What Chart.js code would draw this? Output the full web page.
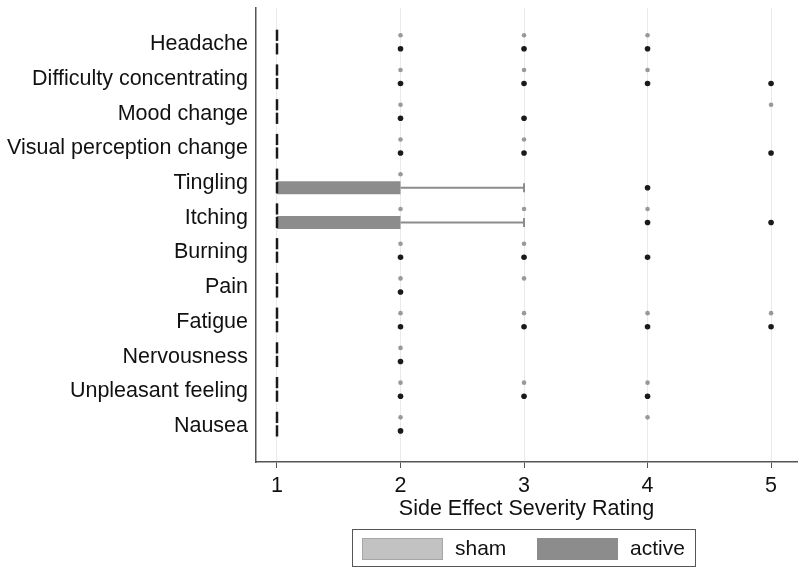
<!DOCTYPE html>
<html><head><meta charset="utf-8">
<script src="https://cdn.jsdelivr.net/npm/chart.js@4.4.0/dist/chart.umd.min.js"></script>
<style>
html,body{margin:0;padding:0;background:#fff;}
*{box-sizing:border-box;}
#wrap{position:relative;width:800px;height:576px;}
#legend{position:absolute;left:352px;top:529px;width:344px;height:38px;border:1px solid #555;font-family:'Liberation Sans',Arial,sans-serif;font-size:21px;color:#111;}
.sw{position:absolute;top:8px;width:81px;height:22px;}
.lt{position:absolute;top:0;line-height:36px;white-space:nowrap;}
</style></head>
<body><div id="wrap"><canvas id="c" width="800" height="576"></canvas>
<div id="legend"></div></div>
<script>
const categories = ["Headache","Difficulty concentrating","Mood change","Visual perception change","Tingling","Itching","Burning","Pain","Fatigue","Nervousness","Unpleasant feeling","Nausea"];
const seriesNames = ["sham","active"];
const xTicks = [1,2,3,4,5];
const xTitle = "Side Effect Severity Rating";

// box statistics per category
const shamMedian = [1,1,1,1,1,1,1,1,1,1,1,1];
const shamQ1     = [1,1,1,1,1,1,1,1,1,1,1,1];
const shamQ3     = [1,1,1,1,1,1,1,1,1,1,1,1];
const shamUpper  = [1,1,1,1,1,1,1,1,1,1,1,1];
const shamOutliers = [[2,3,4],[2,3,4],[2,5],[2,3],[2],[2,3,4],[2,3],[2,3],[2,3,4,5],[2],[2,3,4],[2,4]];

const activeMedian = [1,1,1,1,1,1,1,1,1,1,1,1];
const activeQ1     = [1,1,1,1,1,1,1,1,1,1,1,1];
const activeQ3     = [1,1,1,1,2,2,1,1,1,1,1,1];
const activeUpper  = [1,1,1,1,3,3,1,1,1,1,1,1];
const activeOutliers = [[2,3,4],[2,3,4,5],[2,3],[2,3,5],[4],[4,5],[2,3,4],[2],[2,3,4,5],[2],[2,3,4],[2]];

const FONT = "'Liberation Sans', Arial, sans-serif";
const FS = 21.5;
const TEXT = '#111111';
const SHAM_FILL = '#c2c2c2', SHAM_EDGE = '#a6a6a6';
const ACTIVE_FILL = '#8c8c8c';
const SHAM_DOT = '#999999', ACTIVE_DOT = '#1a1a1a';
const OFF = 0.195;
const LABEL_SHIFT = 0.06;

const series = [
  {name: seriesNames[0], med: shamMedian, q1: shamQ1, q3: shamQ3, up: shamUpper, out: shamOutliers, dy: -OFF, fill: SHAM_FILL, dot: SHAM_DOT, r: 2.3},
  {name: seriesNames[1], med: activeMedian, q1: activeQ1, q3: activeQ3, up: activeUpper, out: activeOutliers, dy: OFF, fill: ACTIVE_FILL, dot: ACTIVE_DOT, r: 2.8}
];

const datasets = [];
// medians (drawn on top)
const medPts = [];
series.forEach(s => categories.forEach((c, i) => medPts.push({x: s.med[i], y: i + s.dy})));
datasets.push({label: 'median', data: medPts, pointStyle: 'line', rotation: 90, pointRadius: 5.6,
  borderColor: '#1a1a1a', pointBorderWidth: 2.5, showLine: false});
// whisker caps
const capPts = [];
series.forEach(s => categories.forEach((c, i) => { if (s.up[i] > s.q3[i]) capPts.push({x: s.up[i], y: i + s.dy}); }));
datasets.push({label: 'caps', data: capPts, pointStyle: 'line', rotation: 90, pointRadius: 4.5,
  borderColor: ACTIVE_FILL, pointBorderWidth: 2, showLine: false});
// outliers
series.forEach(s => {
  const pts = [];
  categories.forEach((c, i) => s.out[i].forEach(v => pts.push({x: v, y: i + s.dy})));
  datasets.push({label: s.name + ' outliers', data: pts, pointRadius: s.r, pointBackgroundColor: s.dot,
    pointBorderWidth: 0, borderColor: s.dot, showLine: false});
});
// whiskers
series.forEach(s => categories.forEach((c, i) => {
  if (s.up[i] > s.q3[i]) datasets.push({label: 'whisker', data: [{x: s.q3[i], y: i + s.dy}, {x: s.up[i], y: i + s.dy}],
    showLine: true, borderColor: s.fill, borderWidth: 2, pointRadius: 0});
}));
// boxes
series.forEach(s => categories.forEach((c, i) => {
  if (s.q3[i] > s.q1[i]) datasets.push({label: 'box', data: [{x: s.q1[i], y: i + s.dy}, {x: s.q3[i], y: i + s.dy}],
    showLine: true, borderColor: s.fill, borderWidth: 13, borderCapStyle: 'butt', pointRadius: 0});
}));

const noPad = a => { a.paddingTop = 0; a.paddingBottom = 0; a.paddingLeft = 0; a.paddingRight = 0; };

new Chart(document.getElementById('c'), {
  type: 'scatter',
  data: {datasets},
  options: {
    responsive: false, animation: false, devicePixelRatio: 1,
    layout: {autoPadding: false, padding: {top: 8, right: 3, bottom: 50, left: 0}},
    plugins: {legend: {display: false}, tooltip: {enabled: false}},
    scales: {
      x: {
        type: 'linear', min: 0.83, max: 5.21,
        afterBuildTicks: a => { a.ticks = xTicks.map(v => ({value: v})); },
        afterFit: a => { a.height = 64; noPad(a); },
        grid: {color: '#e6ecee', lineWidth: 1, tickColor: '#555', tickLength: 6, drawTicks: true},
        border: {color: '#555', width: 1.5},
        ticks: {font: {family: FONT, size: FS}, color: TEXT, padding: 5},
        title: {display: true, text: xTitle, font: {family: FONT, size: FS}, color: TEXT, padding: {top: 0, bottom: 4}}
      },
      y: {
        type: 'linear', reverse: true, min: -0.98, max: 12.09,
        afterBuildTicks: a => { a.ticks = categories.map((c, i) => ({value: i + LABEL_SHIFT})); },
        afterFit: a => { a.width = 256; noPad(a); },
        grid: {display: false, drawTicks: false},
        border: {color: '#555', width: 1.5},
        ticks: {font: {family: FONT, size: FS}, color: TEXT, padding: 8, callback: v => categories[Math.round(v)]}
      }
    }
  }
});

// HTML legend
const lg = document.getElementById('legend');
const swLeft = [9, 184], txLeft = [102, 277];
series.forEach((s, k) => {
  const b = document.createElement('div');
  b.className = 'sw';
  b.style.left = swLeft[k] + 'px';
  b.style.background = s.fill;
  b.style.border = '1px solid ' + (k === 0 ? SHAM_EDGE : ACTIVE_FILL);
  lg.appendChild(b);
  const t = document.createElement('div');
  t.className = 'lt';
  t.style.left = txLeft[k] + 'px';
  t.textContent = s.name;
  lg.appendChild(t);
});
</script>
</body></html>
